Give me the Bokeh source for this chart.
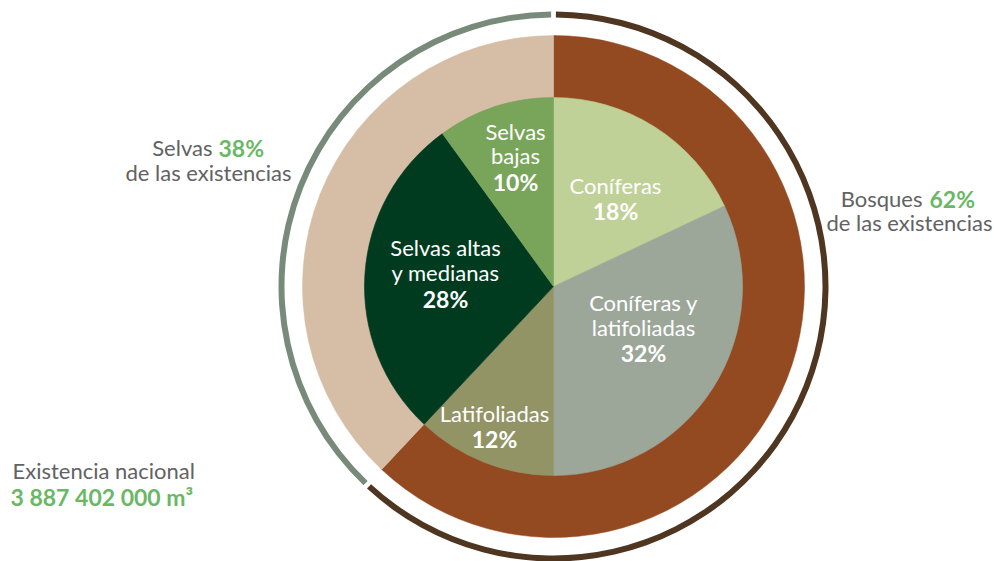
import numpy as np
from bokeh.plotting import figure
from bokeh.models import Range1d, ColumnDataSource
from bokeh.core.properties import value
from bokeh.embed import file_html
from bokeh.resources import INLINE

# ---- data ----
outer_names = ["Bosques", "Selvas"]
outer_values = [62, 38]
outer_colors = ["#934a20", "#d6bda5"]
ring_colors = ["#4f3620", "#788b7a"]

inner_names = ["Coníferas", "Coníferas y latifoliadas", "Latifoliadas",
               "Selvas altas y medianas", "Selvas bajas"]
inner_values = [18, 32, 12, 28, 10]
inner_colors = ["#bfd196", "#9ca79a", "#939466", "#003b20", "#79a55a"]

total_label = "Existencia nacional"
total_value = "3 887 402 000 m³"

FONT = "Lato"
GRAY = "#626262"
GREEN = "#6ab866"
NSIZE = "22px"
BSIZE = "23px"

# ---- figure: data units == page pixels ----
W, H = 994, 561
p = figure(width=W, height=H, x_range=Range1d(0, W), y_range=Range1d(0, H),
           output_backend="svg", toolbar_location=None, min_border=0)
p.axis.visible = False
p.grid.visible = False
p.outline_line_color = None
p.background_fill_color = "white"

PH = 561
def Y(py):
    return PH - py

cx, cy = 553, Y(286)

def angles(vals):
    v = np.array(vals, dtype=float)
    frac = v / v.sum()
    c1 = np.cumsum(frac)
    c0 = c1 - frac
    start = np.deg2rad(90 - c1 * 360)
    end = np.deg2rad(90 - c0 * 360)
    return start, end

# outer thin ring
s, e = angles(outer_values)
gap = np.deg2rad(0.5)
src_ring = ColumnDataSource(dict(start=s + gap, end=e - gap, color=ring_colors))
p.annular_wedge(x=cx, y=cy, inner_radius=269, outer_radius=275, start_angle="start",
                end_angle="end", fill_color="color", line_color=None, source=src_ring)

# outer ring
src_outer = ColumnDataSource(dict(start=s, end=e, color=outer_colors, name=outer_names))
p.annular_wedge(x=cx, y=cy, inner_radius=185, outer_radius=251, start_angle="start",
                end_angle="end", fill_color="color", line_color="color", line_width=0.5,
                source=src_outer)

# inner pie
s2, e2 = angles(inner_values)
src_inner = ColumnDataSource(dict(start=s2, end=e2, color=inner_colors, name=inner_names))
p.wedge(x=cx, y=cy, radius=189, start_angle="start", end_angle="end",
        fill_color="color", line_color="color", line_width=0.6, source=src_inner)

def txt(x, y, t, color="white", bold=False, align="center"):
    p.text(x=[x], y=[Y(y)], text=[t], text_color=color, text_font=value(FONT),
           text_font_size=BSIZE if bold else NSIZE,
           text_font_style="bold" if bold else "normal",
           text_align=align, text_baseline="middle")

# inner labels
txt(515, 131, "Selvas")
txt(515, 155, "bajas")
txt(515, 181, f"{inner_values[4]}%", bold=True)

txt(615, 185, "Coníferas")
txt(615, 210, f"{inner_values[0]}%", bold=True)

txt(643, 302, "Coníferas y")
txt(643, 327, "latifoliadas")
txt(643, 352, f"{inner_values[1]}%", bold=True)

txt(494, 413, "Latifoliadas")
txt(494, 438, f"{inner_values[2]}%", bold=True)

txt(445, 247, "Selvas altas")
txt(445, 272, "y medianas")
txt(445, 298, f"{inner_values[3]}%", bold=True)

# outer labels
txt(212, 147, outer_names[1], color=GRAY, align="right")
txt(218, 147, f"{outer_values[1]}%", color=GREEN, bold=True, align="left")
txt(208, 172, "de las existencias", color=GRAY)

txt(922, 198, outer_names[0], color=GRAY, align="right")
txt(929, 198, f"{outer_values[0]}%", color=GREEN, bold=True, align="left")
txt(909, 222, "de las existencias", color=GRAY)

txt(12, 470, total_label, color=GRAY, align="left")
txt(10, 496, total_value, color=GREEN, bold=True, align="left")

open("out.html", "w").write(file_html(p, INLINE))
